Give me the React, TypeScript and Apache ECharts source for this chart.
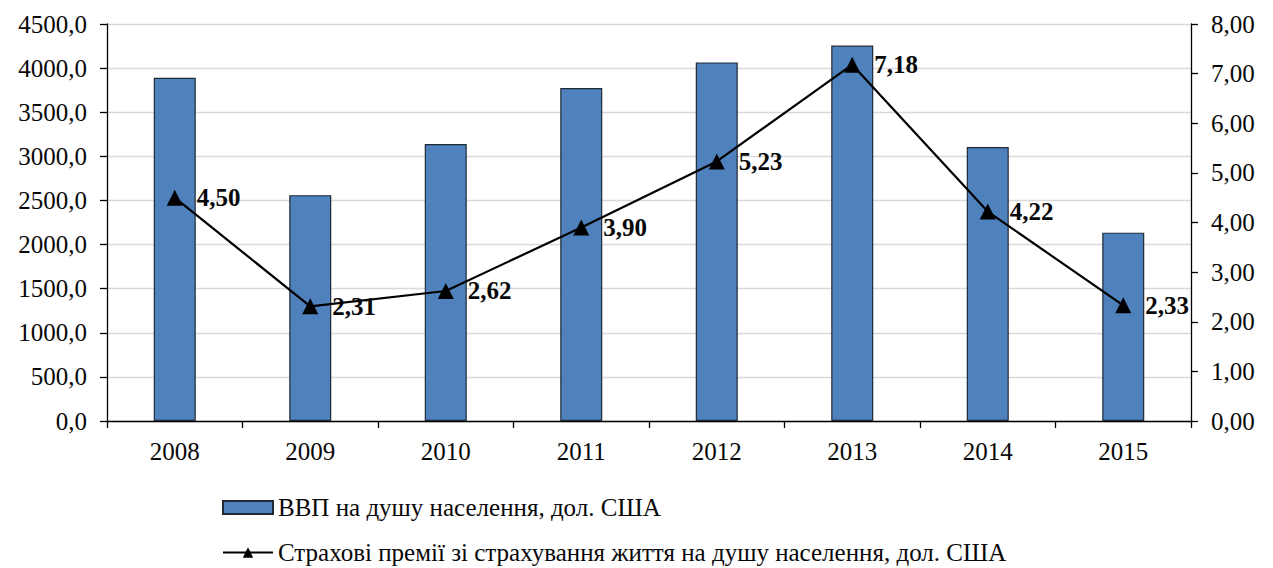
import React, { useEffect, useRef } from "react";
import * as echarts from "echarts";

const categories = ["2008", "2009", "2010", "2011", "2012", "2013", "2014", "2015"];
const gdpPerCapita = [3890, 2560, 3140, 3775, 4065, 4255, 3105, 2135];
const lifePremiums = [4.5, 2.31, 2.62, 3.9, 5.23, 7.18, 4.22, 2.33];
const seriesNames = [
  "ВВП на душу населення, дол. США",
  "Страхові премії зі страхування життя на душу населення, дол. США",
];

const FONT = "Liberation Serif";
const INK = "#080808";

export default function App() {
  const ref = useRef<HTMLDivElement>(null);
  useEffect(() => {
    if (!ref.current) return;
    const chart = echarts.init(ref.current, null, { renderer: "svg" });
    const legendText = { fontFamily: FONT, fontSize: 25, color: INK };
    chart.setOption({
      animation: false,
      grid: { left: 107, right: 82, top: 24, bottom: 147 },
      legend: [
        {
          orient: "horizontal",
          left: 217,
          top: 490,
          itemWidth: 50,
          itemHeight: 13,
          textStyle: legendText,
          data: [{ name: seriesNames[0], icon: "rect" }],
        },
        {
          orient: "horizontal",
          left: 217,
          top: 535,
          itemWidth: 50,
          itemHeight: 13,
          textStyle: legendText,
          data: [{ name: seriesNames[1] }],
        },
      ],
      xAxis: {
        type: "category",
        data: categories,
        axisLine: { show: true, lineStyle: { color: "#000", width: 1.3 } },
        axisTick: { show: true, length: 7, lineStyle: { color: "#000", width: 1.3 } },
        axisLabel: { fontFamily: FONT, fontSize: 25, color: INK, margin: 18 },
      },
      yAxis: [
        {
          type: "value",
          min: 0,
          max: 4500,
          interval: 500,
          axisLine: { show: true, lineStyle: { color: "#000", width: 1.3 } },
          axisTick: { show: true, length: 7, lineStyle: { color: "#000", width: 1.3 } },
          axisLabel: {
            fontFamily: FONT,
            fontSize: 25,
            color: INK,
            margin: 20,
            formatter: (v: number) => v.toFixed(1).replace(".", ","),
          },
          splitLine: { show: true, lineStyle: { color: "#d9d9d9", width: 1.3 } },
        },
        {
          type: "value",
          min: 0,
          max: 8,
          interval: 1,
          position: "right",
          axisLine: { show: true, lineStyle: { color: "#000", width: 1.3 } },
          axisTick: { show: true, length: 7, lineStyle: { color: "#000", width: 1.3 } },
          axisLabel: {
            fontFamily: FONT,
            fontSize: 25,
            color: INK,
            margin: 20,
            formatter: (v: number) => v.toFixed(2).replace(".", ","),
          },
          splitLine: { show: false },
        },
      ],
      series: [
        {
          name: seriesNames[0],
          type: "bar",
          yAxisIndex: 0,
          data: gdpPerCapita,
          barWidth: 42,
          itemStyle: { color: "#4f81bd", borderColor: "#1f2a36", borderWidth: 1.2 },
        },
        {
          name: seriesNames[1],
          type: "line",
          yAxisIndex: 1,
          data: lifePremiums,
          symbol: "triangle",
          symbolSize: 16,
          lineStyle: { color: "#000", width: 2.2 },
          itemStyle: { color: "#000" },
          label: {
            show: true,
            position: "right",
            distance: 14,
            fontFamily: FONT,
            fontSize: 25,
            fontWeight: "bold",
            color: INK,
            formatter: (p: any) => p.value.toFixed(2).replace(".", ","),
          },
          z: 5,
        },
      ],
    });
    return () => chart.dispose();
  }, []);
  return <div ref={ref} style={{ width: 1273, height: 568, marginLeft: -8, marginTop: -8 }} />;
}
